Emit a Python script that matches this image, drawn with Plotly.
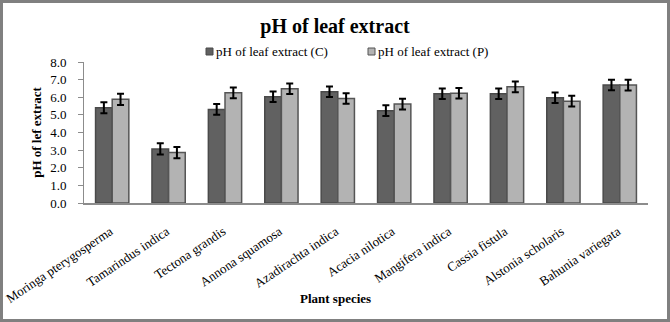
import plotly.graph_objects as go

species = ["Moringa pterygosperma", "Tamarindus indica", "Tectona grandis",
           "Annona squamosa", "Azadirachta indica", "Acacia nilotica",
           "Mangifera indica", "Cassia fistula", "Alstonia scholaris",
           "Bahunia variegata"]
ph_c = [5.40, 3.07, 5.31, 6.03, 6.31, 5.24, 6.20, 6.20, 5.97, 6.70]
ph_p = [5.88, 2.86, 6.25, 6.48, 5.93, 5.61, 6.23, 6.59, 5.78, 6.69]
err_c = [0.31, 0.32, 0.30, 0.30, 0.30, 0.30, 0.30, 0.30, 0.30, 0.30]
err_p = [0.32, 0.32, 0.30, 0.30, 0.30, 0.30, 0.30, 0.30, 0.30, 0.30]
y_ticks = [0, 1, 2, 3, 4, 5, 6, 7, 8]
series_names = ["pH of leaf extract (C)", "pH of leaf extract (P)"]
fill_colors = ["#616161", "#b3b3b3"]
edge_colors = ["#4a4a4a", "#555555"]

W, H = 670, 322
ML, MR, MT, MB = 84, 22, 62, 119
FONT = "Liberation Serif"
pw = W - ML - MR
ph = H - MT - MB


def px_x(p):
    return (p - ML) / pw


def px_y(p):
    return (H - MB - p) / ph


fig = go.Figure()
for name, vals, errs, fc, ec in zip(series_names, [ph_c, ph_p], [err_c, err_p],
                                    fill_colors, edge_colors):
    fig.add_trace(go.Bar(
        x=species, y=vals, name=name, showlegend=False,
        marker=dict(color=fc, line=dict(color=ec, width=1.5)),
        error_y=dict(type="data", array=errs, color="black", thickness=2, width=3.5),
    ))

# legend: small square keys followed by series names
legend_key_x = [206, 368]
legend_y = 51.5
for kx, name, fc, ec in zip(legend_key_x, series_names, fill_colors, edge_colors):
    fig.add_shape(type="rect", xref="paper", yref="paper",
                  x0=px_x(kx), x1=px_x(kx + 7),
                  y0=px_y(legend_y + 3.5), y1=px_y(legend_y - 3.5),
                  fillcolor=fc, line=dict(color=ec, width=1))
    fig.add_annotation(xref="paper", yref="paper", x=px_x(kx + 7.5), y=px_y(legend_y),
                       xanchor="left", yanchor="middle", showarrow=False,
                       text=name, font=dict(size=13, family=FONT, color="black"))

# x-axis title, centred on the figure
fig.add_annotation(xref="paper", yref="paper", x=px_x(W / 2), y=px_y(298),
                   xanchor="center", yanchor="middle", showarrow=False,
                   text="<b>Plant species</b>", font=dict(size=13, family=FONT, color="black"))

# frame around the whole figure
fig.add_shape(type="rect", xref="paper", yref="paper",
              x0=px_x(1.5), x1=px_x(W - 1.5),
              y0=px_y(H - 1.5), y1=px_y(1.5),
              line=dict(color="#808080", width=3), layer="above")

fig.update_layout(
    width=W, height=H,
    margin=dict(l=ML, r=MR, t=MT, b=MB, autoexpand=False),
    paper_bgcolor="white", plot_bgcolor="white",
    font=dict(family=FONT, color="black"),
    barmode="group", bargap=0.41, bargroupgap=0.0,
    title=dict(text="<b>pH of leaf extract</b>", x=0.5, xanchor="center",
               y=1 - 26 / H, yanchor="middle", font=dict(size=20, family=FONT)),
    showlegend=False,
)
fig.update_xaxes(
    tickangle=-34, tickfont=dict(size=13, family=FONT),
    showline=True, linecolor="#8c8c8c", linewidth=2,
    ticks="", showgrid=False, ticklabelstandoff=14, ticklabelshift=-2,
    automargin=False,
)
fig.update_yaxes(
    range=[0, 8], tickvals=y_ticks,
    ticktext=[f"{v:.1f}" for v in y_ticks],
    tickfont=dict(size=13, family=FONT),
    showline=True, linecolor="#8c8c8c", linewidth=1,
    ticks="outside", ticklen=5, tickcolor="#8c8c8c",
    showgrid=False, zeroline=False, ticklabelstandoff=9, automargin=False,
    title=dict(text="<b>pH of lef extract</b>", font=dict(size=13, family=FONT), standoff=5),
)

fig.write_html("out.html")
